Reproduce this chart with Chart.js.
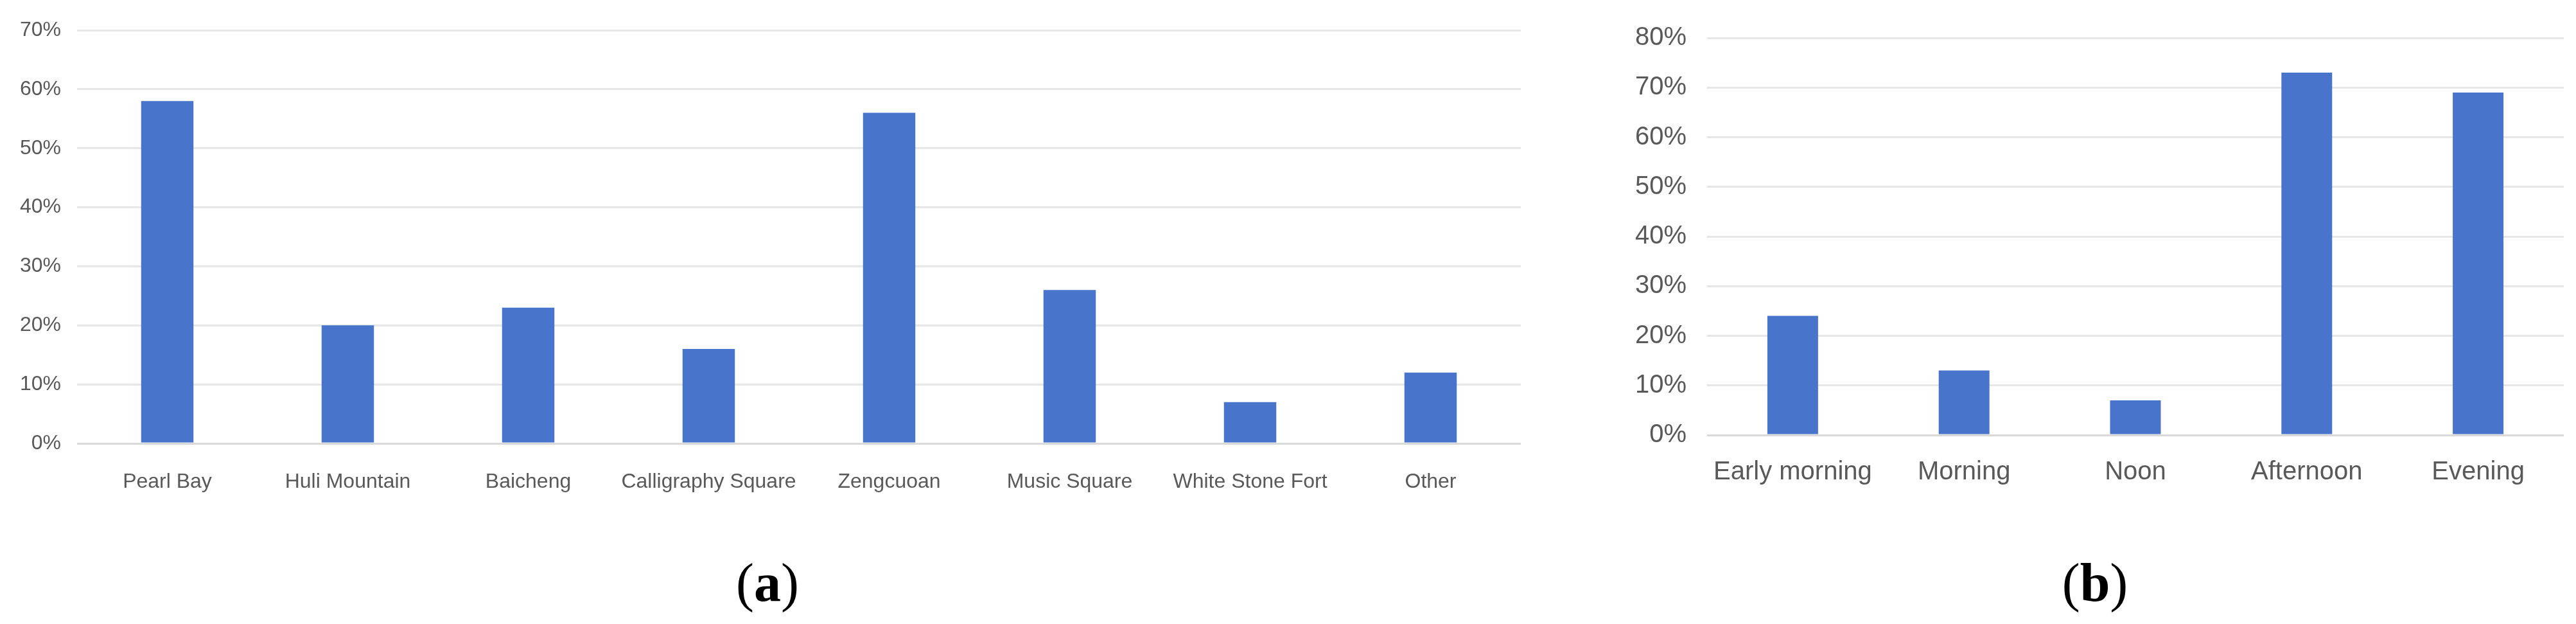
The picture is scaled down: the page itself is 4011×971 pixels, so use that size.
<!DOCTYPE html>
<html>
<head>
<meta charset="utf-8">
<script src="https://cdn.jsdelivr.net/npm/chart.js@4"></script>
<style>
  html, body { margin: 0; padding: 0; background: #fff; }
  body { width: 4011px; height: 971px; position: relative; overflow: hidden; }
  .box { position: absolute; top: 0; height: 800px; }
  .cap { position: absolute; top: 865px; font-family: "Liberation Serif", "Times New Roman", serif;
         font-size: 84px; line-height: 84px; color: #000; transform: translateX(-50%); white-space: nowrap; }
</style>
</head>
<body>
<div class="box" style="left:0; width:2380px;"><canvas id="chartA"></canvas></div>
<div class="box" style="left:2450px; width:1561px;"><canvas id="chartB"></canvas></div>
<div class="cap" style="left:1195px;">(<b>a</b>)</div>
<div class="cap" style="left:3262px;">(<b>b</b>)</div>
<script>
// (a) scenic spots
const spots = ["Pearl Bay", "Huli Mountain", "Baicheng", "Calligraphy Square", "Zengcuoan", "Music Square", "White Stone Fort", "Other"];
const spotShare = [58, 20, 23, 16, 56, 26, 7, 12];
const spotMax = 70;

// (b) time of day
const periods = ["Early morning", "Morning", "Noon", "Afternoon", "Evening"];
const periodShare = [24, 13, 7, 73, 69];
const periodMax = 80;

const barColor = "#4874CB";
const textColor = "#595959";

function makeChart(id, labels, values, max, opt) {
    const ctx = document.getElementById(id).getContext("2d");
    return new Chart(ctx, {
        type: "bar",
        data: {
            labels: labels,
            datasets: [{
                data: values,
                backgroundColor: barColor,
                borderWidth: 0,
                categoryPercentage: 1,
                barPercentage: opt.barPct
            }]
        },
        options: {
            responsive: true,
            maintainAspectRatio: false,
            animation: false,
            layout: { padding: { top: opt.top, right: opt.right, left: 0, bottom: 0 } },
            plugins: { legend: { display: false }, tooltip: { enabled: false } },
            scales: {
                x: {
                    grid: { display: false, drawTicks: false },
                    border: { display: false },
                    ticks: {
                        color: textColor, padding: opt.xPad, maxRotation: 0, autoSkip: false,
                        font: { family: "'Liberation Sans', Arial, sans-serif", size: opt.font }
                    },
                    afterFit: s => { s.height = opt.xH; }
                },
                y: {
                    min: 0, max: max,
                    grid: {
                        drawTicks: false,
                        lineWidth: 3,
                        color: c => c.tick.value === 0 ? "#d9d9d9" : "#e7e7e7"
                    },
                    border: { display: false },
                    ticks: {
                        stepSize: 10, color: textColor, padding: opt.yPad,
                        font: { family: "'Liberation Sans', Arial, sans-serif", size: opt.font },
                        callback: v => v + "%"
                    },
                    afterFit: s => { s.width = opt.yW; }
                }
            }
        }
    });
}

makeChart("chartA", spots, spotShare, spotMax,
    { barPct: 0.29, top: 47, right: 12, xH: 110, yW: 120, xPad: 41, yPad: 25, font: 32 });
makeChart("chartB", periods, periodShare, periodMax,
    { barPct: 0.296, top: 59, right: 19, xH: 123, yW: 208, xPad: 34, yPad: 32, font: 40 });
</script>
</body>
</html>
